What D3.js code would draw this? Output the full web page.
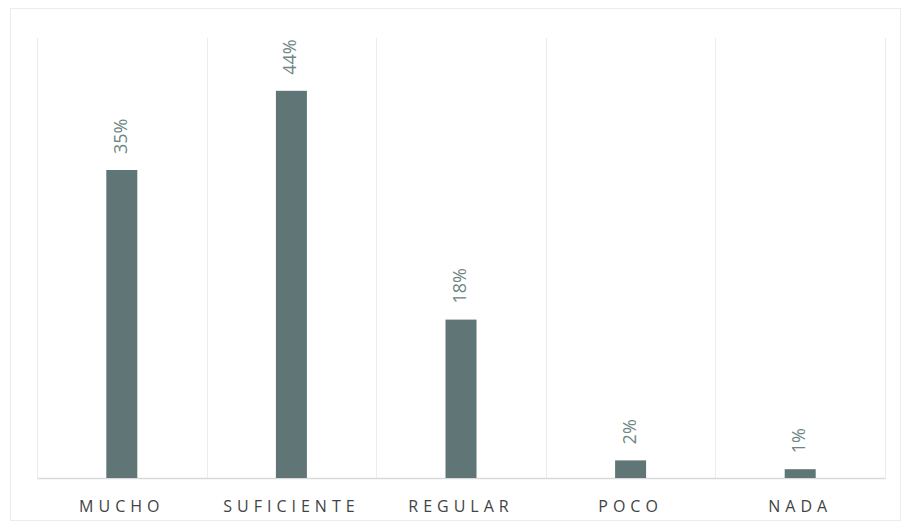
<!DOCTYPE html>
<html>
<head>
<meta charset="utf-8">
<script src="https://cdn.jsdelivr.net/npm/d3@7"></script>
<style>
html,body{margin:0;padding:0;background:#fff;}
svg{display:block;}
</style>
</head>
<body>
<svg id="chart" width="908" height="531"></svg>
<script>
const categories = ["MUCHO", "SUFICIENTE", "REGULAR", "POCO", "NADA"];
const values = [35, 44, 18, 2, 1];
const valueLabels = ["35%", "44%", "18%", "2%", "1%"];

const W = 908, H = 531;
const margin = {top: 38, right: 23, bottom: 53, left: 37};
const svg = d3.select("#chart");

// outer frame
svg.append("rect").attr("x", 10.5).attr("y", 8.5).attr("width", 890).attr("height", 512)
  .attr("fill", "#fff").attr("stroke", "#ececec").attr("stroke-width", 1);

const x = d3.scaleBand().domain(categories).range([margin.left, W - margin.right]).paddingInner(0).paddingOuter(0);
const y = d3.scaleLinear().domain([0, 50]).range([H - margin.bottom, margin.top]);

// vertical gridlines at category boundaries
const bounds = categories.map(c => x(c)).concat([x(categories[categories.length-1]) + x.bandwidth()]);
svg.append("g").selectAll("line").data(bounds).join("line")
  .attr("x1", d => Math.round(d) + 0.5).attr("x2", d => Math.round(d) + 0.5)
  .attr("y1", y(50)).attr("y2", y(0))
  .attr("stroke", "#ececec").attr("stroke-width", 1);

// baseline axis
const xAxis = d3.axisBottom(x).tickSize(0).tickPadding(23);
const gx = svg.append("g").attr("transform", `translate(0,${y(0)})`).call(xAxis);
gx.select(".domain").attr("stroke", "#d9d9d9").attr("stroke-width", 1.5);
gx.selectAll("text")
  .attr("font-family", "'Open Sans', 'DejaVu Sans', sans-serif")
  .attr("font-size", 16)
  .attr("letter-spacing", "5px")
  .attr("fill", "#3f4444");

const barW = 31;
svg.append("g").selectAll("rect").data(values).join("rect")
  .attr("x", (d, i) => x(categories[i]) + x.bandwidth() / 2 - barW / 2)
  .attr("y", d => y(d))
  .attr("width", barW)
  .attr("height", d => y(0) - y(d))
  .attr("fill", "#607575");

// rotated value labels
svg.append("g").selectAll("text").data(values).join("text")
  .attr("transform", (d, i) => `translate(${x(categories[i]) + x.bandwidth() / 2 + 5},${y(d) - 16}) rotate(-90)`)
  .attr("text-anchor", "start")
  .attr("font-family", "'Open Sans', 'DejaVu Sans', sans-serif")
  .attr("font-size", 18)
  .attr("fill", "#6d8683")
  .text((d, i) => valueLabels[i]);
</script>
</body>
</html>
